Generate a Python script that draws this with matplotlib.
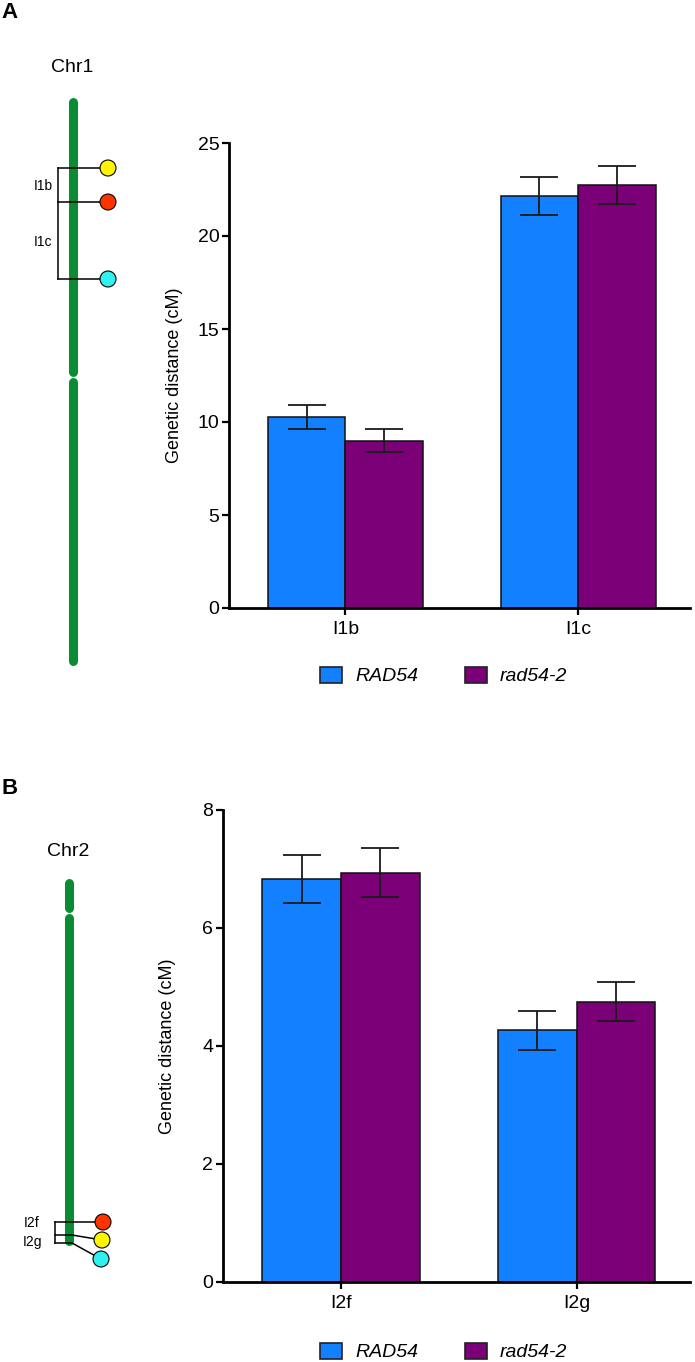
import matplotlib
matplotlib.use('Agg')
import matplotlib.pyplot as plt
import numpy as np
from matplotlib.patches import Patch

plt.rcParams['font.family'] = ['Liberation Sans', 'DejaVu Sans']

# bar data (genetic distance, cM)
loci_a = ['I1b', 'I1c']
rad54_a = [10.27, 22.15]
rad54_a_err = [0.64, 1.0]
mut_a = [9.0, 22.74]
mut_a_err = [0.62, 1.0]

loci_b = ['I2f', 'I2g']
rad54_b = [6.83, 4.27]
rad54_b_err = [0.40, 0.33]
mut_b = [6.94, 4.75]
mut_b_err = [0.41, 0.33]

yticks_a = [0, 5, 10, 15, 20, 25]
yticks_b = [0, 2, 4, 6, 8]

genotypes = ['RAD54', 'rad54-2']
BLUE = '#1380FF'
PURPLE = '#7B0078'
GREEN = '#0A8C35'
marker_cols_a = ['#FFF500', '#FF3300', '#30F0F0']
marker_cols_b = ['#FF3300', '#FFF500', '#30F0F0']

W, H = 695, 1362
fig = plt.figure(figsize=(W / 100, H / 100), dpi=100)

# --- schematic chromosomes, drawn in pixel space
ideo = fig.add_axes([0, 0, 1, 1])
ideo.set_xlim(0, W)
ideo.set_ylim(H, 0)
ideo.axis('off')

chr_lw = 6.5
# Chr1: top, centromere, bottom
ideo.plot([73, 73], [101.5, 372], color=GREEN, lw=chr_lw, solid_capstyle='round', zorder=1)
ideo.plot([73, 73], [382, 660.5], color=GREEN, lw=chr_lw, solid_capstyle='round', zorder=1)
loc_y1 = [168, 202, 279]
ideo.plot([58, 58], [loc_y1[0], loc_y1[-1]], color='black', lw=1.1, zorder=2)
for y in loc_y1:
    ideo.plot([58, 100], [y, y], color='black', lw=1.1, zorder=2)
ideo.scatter([108] * 3, loc_y1, s=11.5 ** 2, c=marker_cols_a, edgecolors='black',
             linewidths=0.8, zorder=3)
ideo.text(43, 186, 'I1b', ha='center', va='center', fontsize=10)
ideo.text(43, 242, 'I1c', ha='center', va='center', fontsize=10)
ideo.text(72, 68, 'Chr1', ha='center', va='center', fontsize=14)

# Chr2
ideo.plot([69, 69], [882.5, 908], color=GREEN, lw=chr_lw, solid_capstyle='round', zorder=1)
ideo.plot([69, 69], [918, 1240.5], color=GREEN, lw=chr_lw, solid_capstyle='round', zorder=1)
ideo.plot([55, 55], [1222, 1243], color='black', lw=1.1, zorder=2)
ideo.plot([55, 96], [1222, 1222], color='black', lw=1.1, zorder=2)
ideo.plot([55, 72, 102], [1235, 1235, 1240], color='black', lw=1.1, zorder=2)
ideo.plot([55, 72, 101], [1243, 1243, 1259], color='black', lw=1.1, zorder=2)
ideo.scatter([103, 102, 101], [1222, 1240, 1259], s=11.5 ** 2, c=marker_cols_b,
             edgecolors='black', linewidths=0.8, zorder=3)
ideo.text(32, 1223, 'I2f', ha='center', va='center', fontsize=10)
ideo.text(32, 1242, 'I2g', ha='center', va='center', fontsize=10)
ideo.text(68, 852, 'Chr2', ha='center', va='center', fontsize=14)

fig.text(10 / W, 1 - 13 / H, 'A', fontsize=16, fontweight='bold', ha='center', va='center')
fig.text(10 / W, 1 - 789 / H, 'B', fontsize=16, fontweight='bold', ha='center', va='center')


def bar_panel(rect, loci, wt, wt_err, mut, mut_err, yticks):
    ax = fig.add_axes(rect)
    ax.set_facecolor('none')
    x = np.arange(len(loci))
    w = 1 / 3
    eb = dict(ecolor='#1a1a1a', elinewidth=1.3, capsize=14, capthick=1.3)
    ax.bar(x - w / 2, wt, w, yerr=wt_err, color=BLUE, edgecolor='#111111',
           linewidth=1.1, error_kw=eb, zorder=2)
    ax.bar(x + w / 2, mut, w, yerr=mut_err, color=PURPLE, edgecolor='#111111',
           linewidth=1.1, error_kw=eb, zorder=2)
    ax.set_xlim(-0.5, 1.48)
    ax.set_ylim(yticks[0], yticks[-1])
    ax.set_yticks(yticks)
    ax.set_xticks(x)
    ax.set_xticklabels(loci)
    for s in ['top', 'right']:
        ax.spines[s].set_visible(False)
    for s in ['left', 'bottom']:
        ax.spines[s].set_linewidth(2.0)
    ax.tick_params(axis='both', width=1.6, length=5, labelsize=14, pad=2)
    ax.tick_params(axis='x', pad=4)
    ax.set_ylabel('Genetic distance (cM)', fontsize=13)
    ax.yaxis.set_label_coords(-0.1, 0.5)
    return ax


ax_a = bar_panel([229 / W, 1 - 608 / H, 461 / W, 465 / H], loci_a,
                 rad54_a, rad54_a_err, mut_a, mut_a_err, yticks_a)
ax_b = bar_panel([223 / W, 1 - 1282 / H, 467 / W, 472 / H], loci_b,
                 rad54_b, rad54_b_err, mut_b, mut_b_err, yticks_b)

handles = [Patch(facecolor=BLUE, edgecolor='#222222', linewidth=1.2),
           Patch(facecolor=PURPLE, edgecolor='#222222', linewidth=1.2)]
for ycen in [1 - 676 / H, 1 - 1352 / H]:
    fig.legend(handles, genotypes, loc='center', bbox_to_anchor=(444 / W, ycen),
               ncol=2, frameon=False, prop={'style': 'italic', 'size': 14},
               handlelength=1.1, handleheight=0.9, handletextpad=0.7,
               columnspacing=2.4, borderpad=0, borderaxespad=0)

fig.savefig('out.png', dpi=100)
